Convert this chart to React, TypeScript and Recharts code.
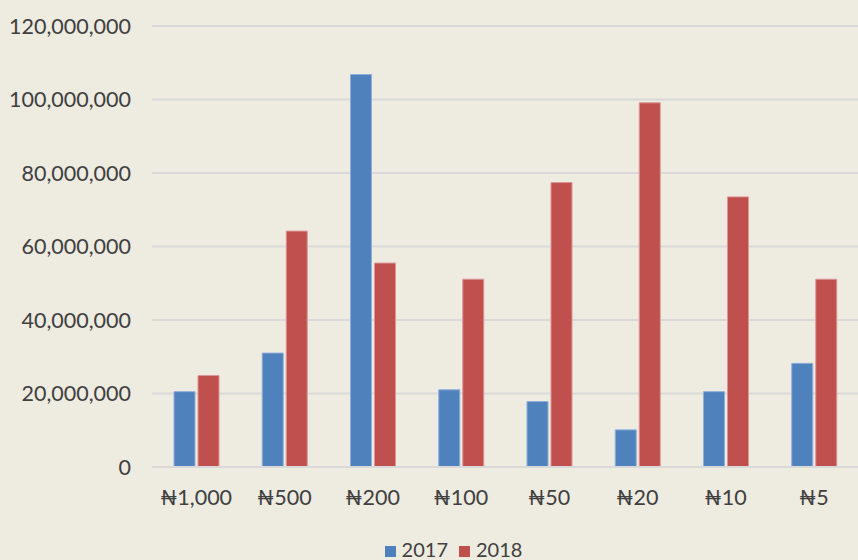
import React from 'react';
import { BarChart, Bar, XAxis, YAxis, CartesianGrid, Legend } from 'recharts';

// Notes in circulation by denomination
const denominations = ['₦1,000', '₦500', '₦200', '₦100', '₦50', '₦20', '₦10', '₦5'];
const values2017 = [20500000, 31000000, 106800000, 21000000, 17800000, 10100000, 20500000, 28200000];
const values2018 = [24900000, 64200000, 55500000, 51100000, 77400000, 99100000, 73500000, 51100000];
const yTicks = [0, 20000000, 40000000, 60000000, 80000000, 100000000, 120000000];

const data = denominations.map((name, i) => ({
  name,
  y2017: values2017[i],
  y2018: values2018[i],
}));

const BG = '#eeebe0';
const TEXT = '#404040';
const FONT = 'Lato, "Open Sans", sans-serif';

const formatNumber = (v: number) => v.toLocaleString('en-US');

const App: React.FC = () => {
  return (
    <div
      style={{
        position: 'absolute',
        top: 0,
        left: 0,
        width: 858,
        height: 560,
        background: BG,
        fontFamily: FONT,
      }}
    >
      <BarChart
        width={858}
        height={560}
        data={data}
        margin={{ top: 26, right: 0, left: 0, bottom: 0 }}
        barCategoryGap={21}
        barGap={3}
      >
        <CartesianGrid vertical={false} stroke="#d9d9d9" strokeWidth={2} />
        <XAxis
          dataKey="name"
          axisLine={{ stroke: '#d9d9d9', strokeWidth: 2 }}
          tickLine={false}
          tickSize={0}
          tickMargin={23}
          height={71}
          interval={0}
          tick={{ fill: TEXT, fontSize: 21.5, fontFamily: FONT }}
        />
        <YAxis
          width={152}
          domain={[0, 120000000]}
          ticks={yTicks}
          axisLine={false}
          tickLine={false}
          tickSize={0}
          tickMargin={21}
          tickFormatter={formatNumber}
          tick={{ fill: TEXT, fontSize: 21.5, fontFamily: FONT }}
        />
        <Legend
          verticalAlign="bottom"
          iconType="square"
          iconSize={11}
          wrapperStyle={{
            fontSize: 20,
            color: TEXT,
            fontFamily: FONT,
            lineHeight: '22px',
            paddingLeft: 30,
          }}
          formatter={(value) => <span style={{ color: TEXT, marginLeft: 2, marginRight: 1 }}>{value}</span>}
        />
        <Bar
          dataKey="y2017"
          name="2017"
          fill="#4f81bd"
          stroke="#8eaedb"
          strokeWidth={1}
          barSize={21}
          isAnimationActive={false}
        />
        <Bar
          dataKey="y2018"
          name="2018"
          fill="#c0504d"
          stroke="#dc9694"
          strokeWidth={1}
          barSize={21}
          isAnimationActive={false}
        />
      </BarChart>
    </div>
  );
};

export default App;
